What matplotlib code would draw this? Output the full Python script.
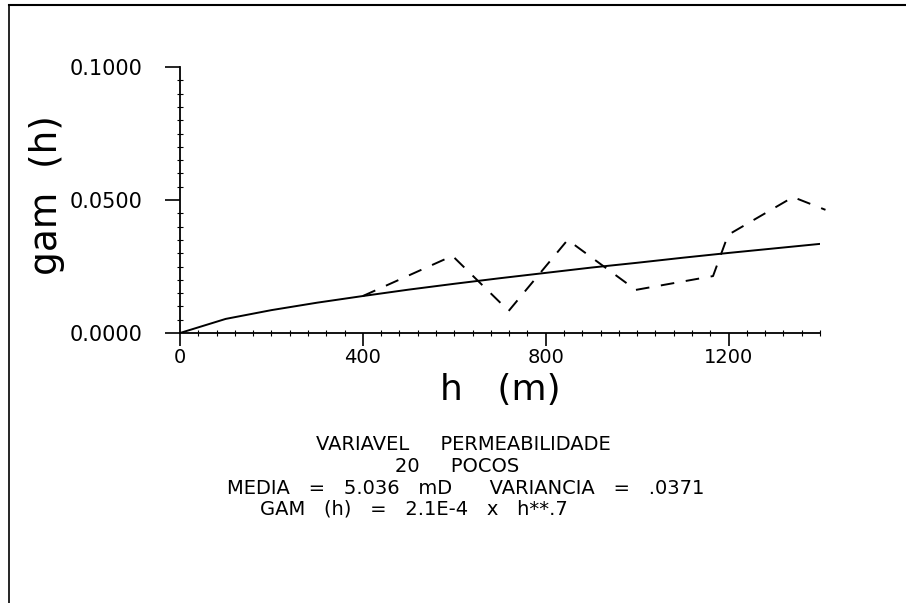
import numpy as np
import matplotlib.pyplot as plt
from matplotlib.lines import Line2D
from matplotlib.ticker import MultipleLocator

h_exp = [400, 596, 719, 848, 997, 1166, 1199, 1341, 1412]
gam_exp = [0.0139, 0.0290, 0.0083, 0.0350, 0.0162, 0.0214, 0.0369, 0.0511, 0.0463]

# fitted model GAM(h) = 2.1E-4 x h**.7 (solid)
h_mod = [0, 100, 200, 300, 400, 500, 600, 700, 800, 900, 1000, 1100, 1200, 1300, 1400]
gam_mod = [0.0, 0.0053, 0.0086, 0.0114, 0.0139, 0.0163, 0.0185, 0.0206, 0.0226,
           0.0246, 0.0264, 0.0283, 0.0301, 0.0318, 0.0335]

xticks = [0, 400, 800, 1200]
yticks = [0.0, 0.05, 0.1]
ytick_labels = ["0.0000", "0.0500", "0.1000"]

info_lines = [
    ("VARIAVEL     PERMEABILIDADE", 463, 444),
    ("20     POCOS", 457, 466),
    ("MEDIA   =   5.036   mD      VARIANCIA   =   .0371", 466, 488),
    ("GAM   (h)   =   2.1E-4   x   h**.7", 414, 509),
]

W, H = 906, 603
fig = plt.figure(figsize=(W / 100, H / 100), dpi=100)
ax = fig.add_axes([180 / W, 1 - 333 / H, 640 / W, 266 / H])

ax.plot(h_mod, gam_mod, color="black", lw=1.4)
ax.plot(h_exp, gam_exp, color="black", lw=1.4, ls=(0, (7, 6)), clip_on=False)

ax.set_xlim(0, 1400)
ax.set_ylim(0, 0.1)
for s in ("top", "right"):
    ax.spines[s].set_visible(False)
ax.spines["left"].set_linewidth(1.3)
ax.spines["bottom"].set_linewidth(1.3)

ax.set_xticks(xticks)
ax.set_xticklabels([str(v) for v in xticks])
ax.set_yticks(yticks)
ax.set_yticklabels(ytick_labels)
ax.xaxis.set_minor_locator(MultipleLocator(40))
ax.yaxis.set_minor_locator(MultipleLocator(0.005))
ax.tick_params(which="major", direction="out", length=11, width=1.2,
               labelsize=14)
ax.tick_params(which="minor", direction="inout", length=5, width=0.8)
ax.tick_params(axis="y", which="major", labelsize=15, pad=16)
ax.tick_params(axis="x", which="major", length=9, pad=2)

ax.set_xlabel("h   (m)", fontsize=26, labelpad=4)
ax.set_ylabel("gam  (h)", fontsize=27)
ax.yaxis.set_label_coords(-0.18, 0.52)

for txt, x, y in info_lines:
    fig.text(x / W, 1 - y / H, txt, ha="center", va="center", fontsize=14)

# page frame
fig.add_artist(Line2D([9 / W, 1], [1 - 5 / H, 1 - 5 / H], color="black", lw=1.5))
fig.add_artist(Line2D([9 / W, 9 / W], [0, 1 - 5 / H], color="black", lw=1.2))

fig.savefig("out.png", dpi=100)
